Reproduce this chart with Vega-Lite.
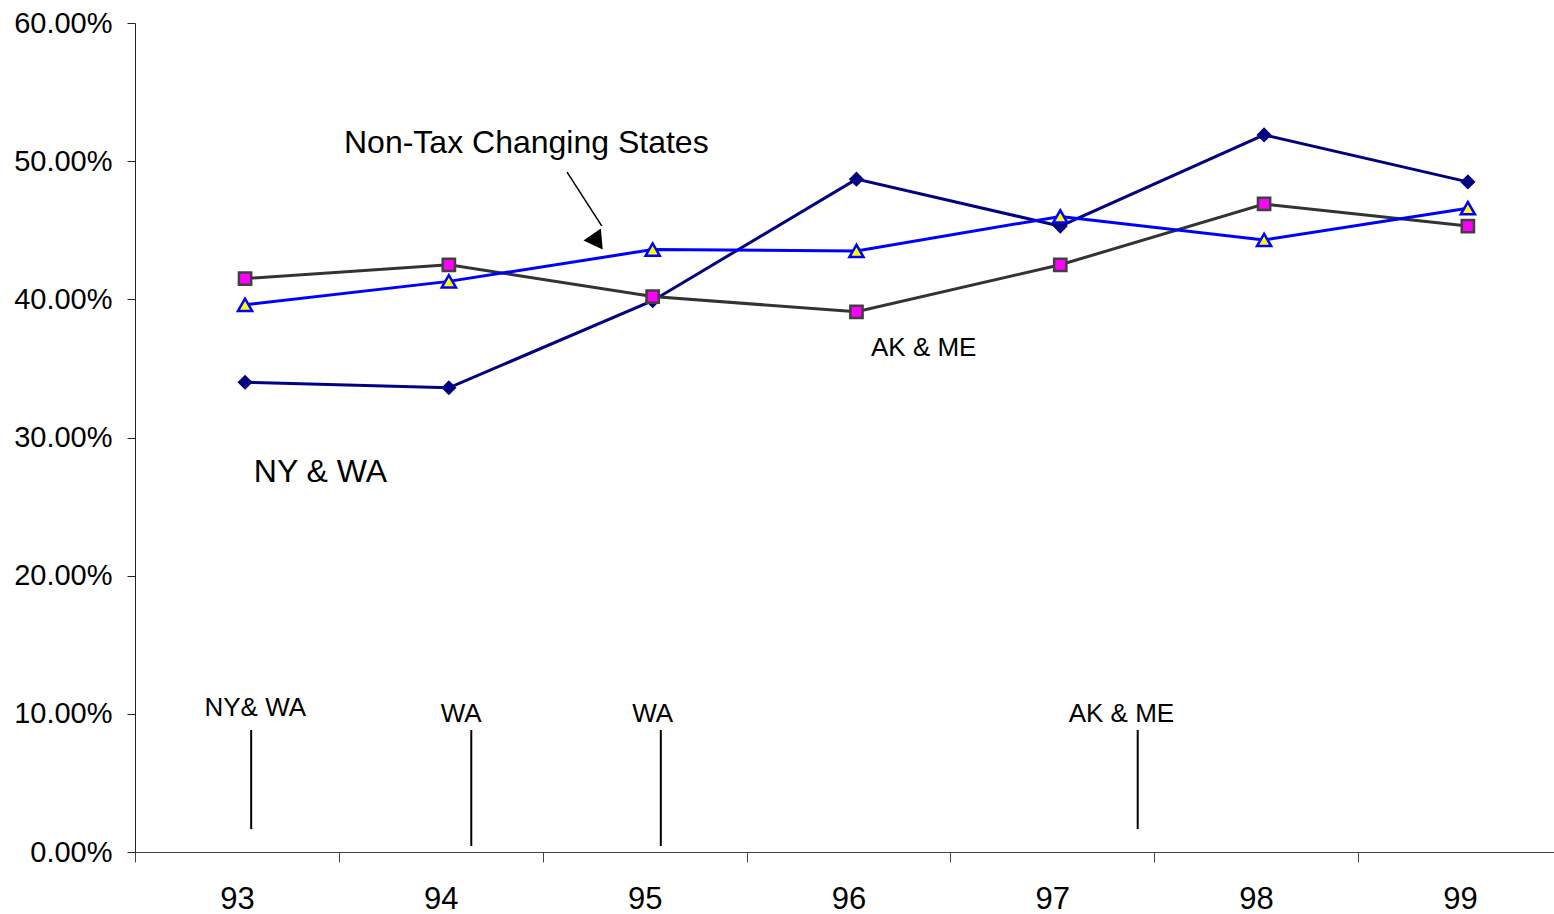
{
  "$schema": "https://vega.github.io/schema/vega-lite/v6.json",
  "width": 1419,
  "height": 829,
  "autosize": {"type": "none"},
  "padding": {"left": 135, "top": 23, "right": 0, "bottom": 62},
  "background": "white",
  "config": {"view": {"stroke": null}, "font": "Liberation Sans", "axis": {"grid": false}},
  "datasets": {
    "series": [
      {"year": 93, "series": "NY & WA", "value": 0.340},
      {"year": 94, "series": "NY & WA", "value": 0.336},
      {"year": 95, "series": "NY & WA", "value": 0.399},
      {"year": 96, "series": "NY & WA", "value": 0.487},
      {"year": 97, "series": "NY & WA", "value": 0.453},
      {"year": 98, "series": "NY & WA", "value": 0.519},
      {"year": 99, "series": "NY & WA", "value": 0.485},
      {"year": 93, "series": "AK & ME", "value": 0.415},
      {"year": 94, "series": "AK & ME", "value": 0.425},
      {"year": 95, "series": "AK & ME", "value": 0.402},
      {"year": 96, "series": "AK & ME", "value": 0.391},
      {"year": 97, "series": "AK & ME", "value": 0.425},
      {"year": 98, "series": "AK & ME", "value": 0.469},
      {"year": 99, "series": "AK & ME", "value": 0.453},
      {"year": 93, "series": "Non-Tax Changing States", "value": 0.396},
      {"year": 94, "series": "Non-Tax Changing States", "value": 0.413},
      {"year": 95, "series": "Non-Tax Changing States", "value": 0.436},
      {"year": 96, "series": "Non-Tax Changing States", "value": 0.435},
      {"year": 97, "series": "Non-Tax Changing States", "value": 0.460},
      {"year": 98, "series": "Non-Tax Changing States", "value": 0.443},
      {"year": 99, "series": "Non-Tax Changing States", "value": 0.466}
    ],
    "bigNotes": [
      {"x": 94.38, "y": 0.5059, "text": "Non-Tax Changing States"},
      {"x": 93.37, "y": 0.2678, "text": "NY & WA"}
    ],
    "smallNotes": [
      {"x": 96.33, "y": 0.3590, "text": "AK & ME"},
      {"x": 93.05, "y": 0.0985, "text": "NY& WA"},
      {"x": 94.06, "y": 0.0941, "text": "WA"},
      {"x": 95.00, "y": 0.0941, "text": "WA"},
      {"x": 97.30, "y": 0.0941, "text": "AK & ME"}
    ],
    "markers": [
      {"x": 93.03, "y": 0.0883, "y2": 0.0166},
      {"x": 94.11, "y": 0.0883, "y2": 0.0043},
      {"x": 95.04, "y": 0.0883, "y2": 0.0043},
      {"x": 97.38, "y": 0.0883, "y2": 0.0166}
    ],
    "arrow": [
      {"x": 94.58, "y": 0.4921, "x2": 94.75, "y2": 0.4531}
    ],
    "arrowHead": [
      {"x": 94.729, "y": 0.4415}
    ]
  },
  "layer": [
    {
      "data": {"name": "series"},
      "transform": [{"filter": "datum.series === 'NY & WA'"}],
      "mark": {"type": "line", "color": "#000080", "strokeWidth": 3},
      "encoding": {
        "x": {"field": "year", "type": "quantitative", "scale": {"domain": [92.46, 99.4226], "nice": false, "zero": false},
          "axis": {"title": null, "orient": "bottom",
            "values": [92.5, 93, 93.5, 94, 94.5, 95, 95.5, 96, 96.5, 97, 97.5, 98, 98.5, 99],
            "labelExpr": "datum.value % 1 === 0 ? format(datum.value, 'd') : ''",
            "tickOpacity": {"condition": {"test": "datum.value % 1 === 0", "value": 0}, "value": 1},
            "tickOffset": -8, "tickSize": 10, "tickColor": "#444444", "domainColor": "#444444",
            "labelFontSize": 31, "labelColor": "#000000", "labelPadding": 22, "labelOverlap": false, "labelFlush": false, "labelBound": false}},
        "y": {"field": "value", "type": "quantitative", "scale": {"domain": [0, 0.6], "nice": false},
          "axis": {"title": null, "values": [0, 0.1, 0.2, 0.3, 0.4, 0.5, 0.6], "format": ".2%",
            "tickSize": 8, "tickColor": "#222222", "domainColor": "#222222",
            "labelFontSize": 29, "labelColor": "#000000", "labelPadding": 15, "labelOverlap": false, "labelFlush": false, "labelBound": false}}
      }
    },
    {
      "data": {"name": "series"},
      "transform": [{"filter": "datum.series === 'NY & WA'"}],
      "mark": {"type": "point", "shape": "diamond", "size": 230, "filled": true, "color": "#000080", "opacity": 1},
      "encoding": {
        "x": {"field": "year", "type": "quantitative"},
        "y": {"field": "value", "type": "quantitative"}
      }
    },
    {
      "data": {"name": "series"},
      "transform": [{"filter": "datum.series === 'AK & ME'"}],
      "mark": {"type": "line", "color": "#333333", "strokeWidth": 3},
      "encoding": {
        "x": {"field": "year", "type": "quantitative"},
        "y": {"field": "value", "type": "quantitative"}
      }
    },
    {
      "data": {"name": "series"},
      "transform": [{"filter": "datum.series === 'AK & ME'"}],
      "mark": {"type": "point", "shape": "square", "size": 150, "filled": true, "fill": "#FF00FF", "stroke": "#404040", "strokeWidth": 2.5, "opacity": 1},
      "encoding": {
        "x": {"field": "year", "type": "quantitative"},
        "y": {"field": "value", "type": "quantitative"}
      }
    },
    {
      "data": {"name": "series"},
      "transform": [{"filter": "datum.series === 'Non-Tax Changing States'"}],
      "mark": {"type": "line", "color": "#0000FF", "strokeWidth": 3},
      "encoding": {
        "x": {"field": "year", "type": "quantitative"},
        "y": {"field": "value", "type": "quantitative"}
      }
    },
    {
      "data": {"name": "series"},
      "transform": [{"filter": "datum.series === 'Non-Tax Changing States'"}],
      "mark": {"type": "point", "shape": "triangle-up", "size": 200, "filled": true, "fill": "#FFFF00", "stroke": "#0000FF", "strokeWidth": 2.5, "opacity": 1},
      "encoding": {
        "x": {"field": "year", "type": "quantitative"},
        "y": {"field": "value", "type": "quantitative"}
      }
    },
    {
      "data": {"name": "markers"},
      "mark": {"type": "rule", "color": "#000000", "strokeWidth": 2},
      "encoding": {
        "x": {"field": "x", "type": "quantitative"},
        "y": {"field": "y", "type": "quantitative"},
        "y2": {"field": "y2"}
      }
    },
    {
      "data": {"name": "arrow"},
      "mark": {"type": "rule", "color": "#000000", "strokeWidth": 1.5},
      "encoding": {
        "x": {"field": "x", "type": "quantitative"},
        "y": {"field": "y", "type": "quantitative"},
        "x2": {"field": "x2"},
        "y2": {"field": "y2"}
      }
    },
    {
      "data": {"name": "arrowHead"},
      "mark": {"type": "point", "shape": "triangle-down", "size": 450, "filled": true, "color": "#000000", "opacity": 1, "angle": 325},
      "encoding": {
        "x": {"field": "x", "type": "quantitative"},
        "y": {"field": "y", "type": "quantitative"}
      }
    },
    {
      "data": {"name": "bigNotes"},
      "mark": {"type": "text", "fontSize": 32, "color": "#000000", "align": "center", "baseline": "alphabetic"},
      "encoding": {
        "x": {"field": "x", "type": "quantitative"},
        "y": {"field": "y", "type": "quantitative"},
        "text": {"field": "text"}
      }
    },
    {
      "data": {"name": "smallNotes"},
      "mark": {"type": "text", "fontSize": 26, "color": "#000000", "align": "center", "baseline": "alphabetic"},
      "encoding": {
        "x": {"field": "x", "type": "quantitative"},
        "y": {"field": "y", "type": "quantitative"},
        "text": {"field": "text"}
      }
    }
  ]
}
